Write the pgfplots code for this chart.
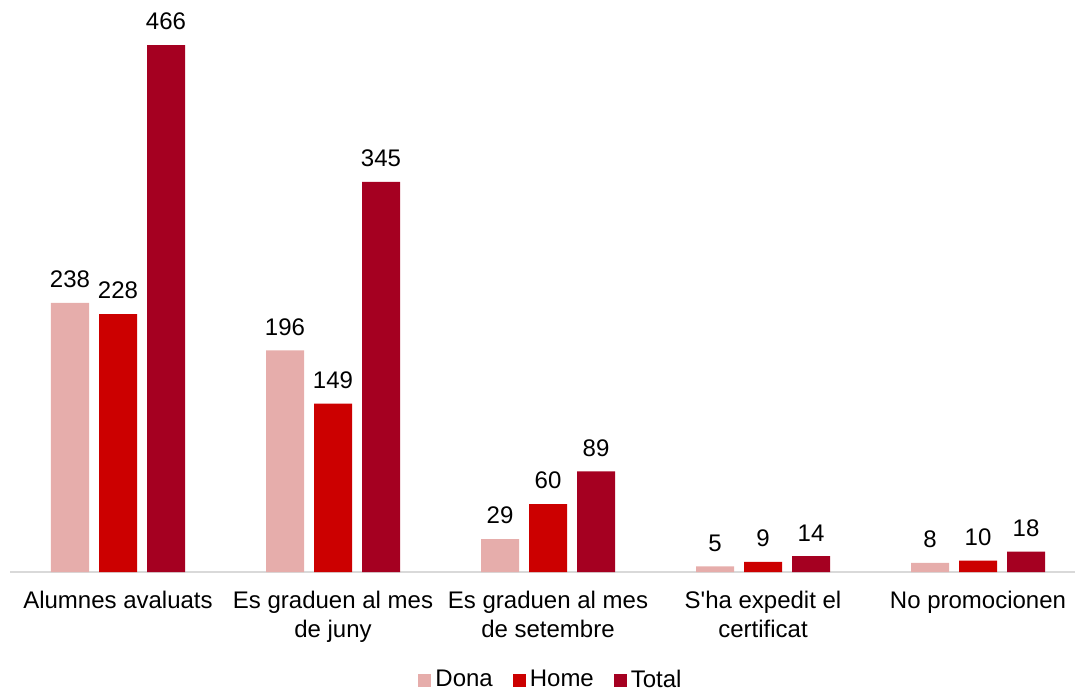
\documentclass[border=0pt]{standalone}
\usepackage{pgfplots}
\pgfplotsset{compat=1.18}
\usepackage{fontspec}
\setmainfont{Liberation Sans}[Ligatures=TeXOff]
\definecolor{cDona}{HTML}{E6ADAB}
\definecolor{cHome}{HTML}{CC0000}
\definecolor{cTotal}{HTML}{A50021}
\definecolor{axisgray}{HTML}{D9D9D9}

\begin{document}
\begin{tikzpicture}
\begin{axis}[
    scale only axis,
    width=537.5pt, height=281pt,
    at={(0,0)}, anchor=south west,
    ybar=5pt, bar width=19pt,
    xmin=-0.5, xmax=4.5,
    ymin=0, ymax=497,
    axis y line=none,
    axis x line*=bottom,
    x axis line style={axisgray, line width=0.75pt, -},
    xtick={0,1,2,3,4},
    xticklabels={Alumnes avaluats, Es graduen al mes\\de juny, Es graduen al mes\\de setembre, S'ha expedit el\\certificat, No promocionen},
    major tick length=0pt,
    xticklabel style={font=\fontsize{12}{14.5}\selectfont, align=center, anchor=north, yshift=-6pt},
    nodes near coords,
    every node near coord/.append style={font=\fontsize{12}{14}\selectfont, black, yshift=4pt},
    /pgf/number format/assume math mode=true,
    legend style={at={(0.5,0)}, anchor=center, xshift=2pt, yshift=-54pt, draw=none, font=\fontsize{12}{14}\selectfont,
        legend columns=3, /tikz/every even column/.append style={column sep=8pt}},
    legend image code/.code={\fill[#1] (0pt,-3.25pt) rectangle (6.5pt,3.25pt);},
]
\addplot[fill=cDona, draw=none] coordinates {(0,238) (1,196) (2,29) (3,5) (4,8)};
\addplot[fill=cHome, draw=none] coordinates {(0,228) (1,149) (2,60) (3,9) (4,10)};
\addplot[fill=cTotal, draw=none] coordinates {(0,466) (1,345) (2,89) (3,14) (4,18)};
\legend{Dona,Home,Total}
\end{axis}
\pgfresetboundingbox
\path (-5.25pt,-60.5pt) rectangle (532.25pt,286pt);
\end{tikzpicture}
\end{document}
